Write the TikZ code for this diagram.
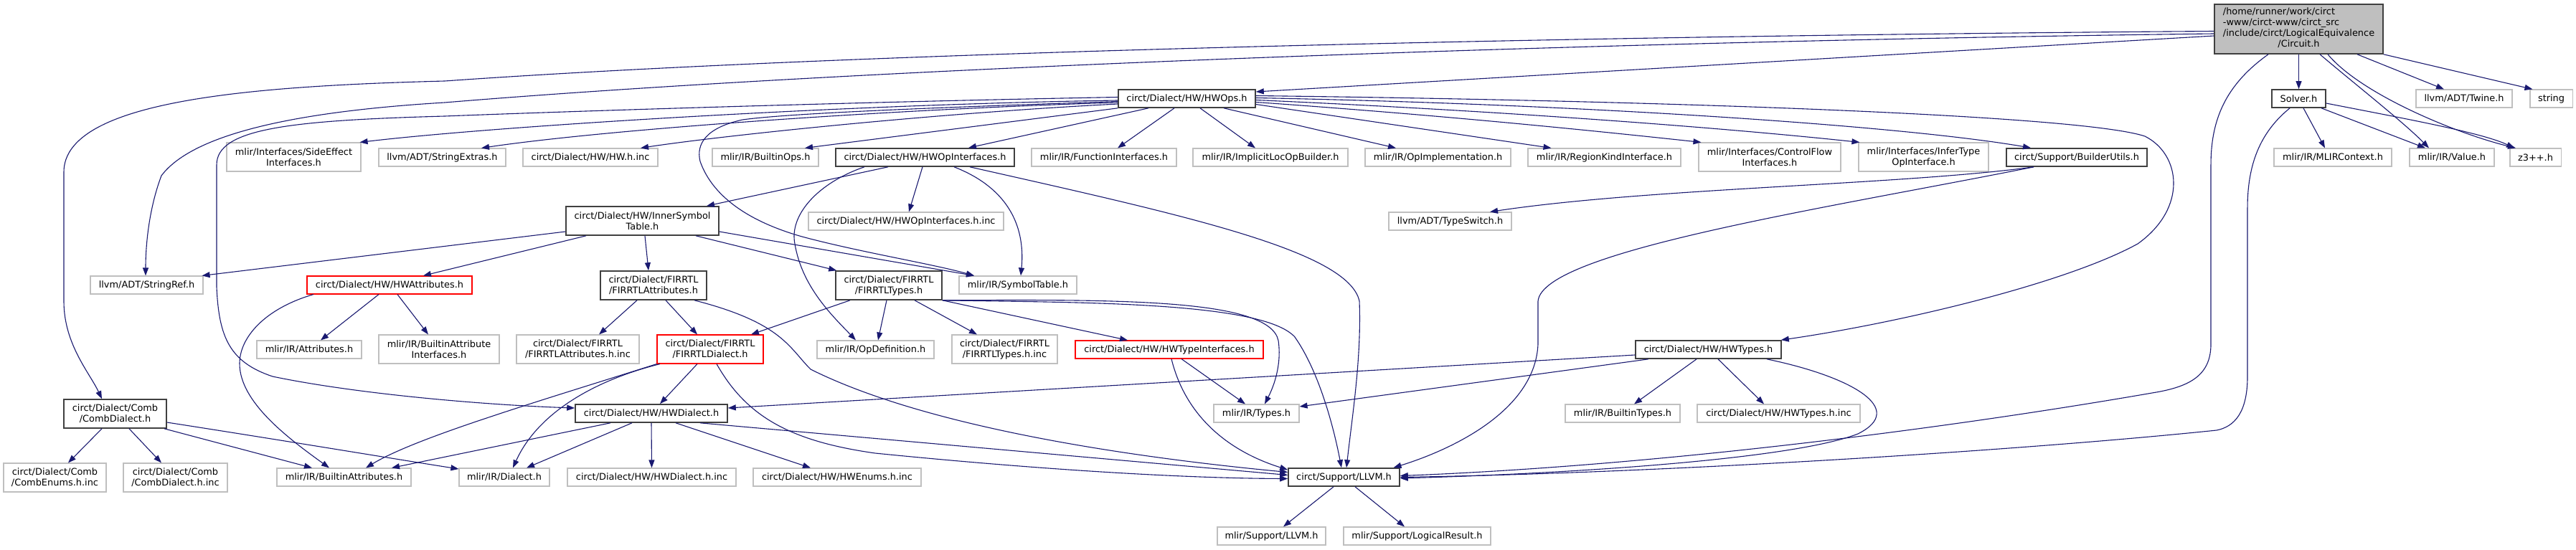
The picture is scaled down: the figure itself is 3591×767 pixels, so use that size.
\documentclass[tikz,border=0pt]{standalone}
\usepackage{fontspec}
\setmainfont{DejaVu Sans}
\usetikzlibrary{arrows.meta}
\definecolor{edgecol}{HTML}{191970}
\definecolor{gborder}{HTML}{BFBFBF}
\definecolor{kborder}{HTML}{404040}
\definecolor{rootfill}{HTML}{BFBFBF}
\definecolor{rborder}{HTML}{FF0000}
\tikzset{
  box/.style={rectangle, inner sep=0pt, fill=white, align=center, font=\fontsize{12.9}{15}\selectfont},
  gbox/.style={box, draw=gborder, line width=1.1pt},
  kbox/.style={box, draw=kborder, line width=1.6pt},
  rbox/.style={box, draw=rborder, line width=1.1pt},
  rootbox/.style={box, fill=rootfill, draw=kborder, line width=1.6pt},
  edge/.style={draw=edgecol, line width=1.1pt, -{Triangle[length=11pt,width=8pt]}, fill=none}
}
\begin{document}
\begin{tikzpicture}[x=1pt,y=-1pt]
\fill[white] (0,0) rectangle (3591,767);
\useasboundingbox (0,0) rectangle (3591,767);

% ---- nodes ----
\node[rootbox, minimum width=235pt, minimum height=69pt] (root) at (3204.5,40.5)
  {\begin{tabular}{@{}l@{}}/home/runner/work/circt\\-www/circt-www/circt\_src\\/include/circt/LogicalEquivalence\\\multicolumn{1}{@{}c@{}}{/Circuit.h}\end{tabular}};
\node[kbox, minimum width=75pt, minimum height=25pt] (solver) at (3204.5,137.5) {Solver.h};
\node[gbox, minimum width=134pt, minimum height=25pt] (twine) at (3435,137.5) {llvm/ADT/Twine.h};
\node[gbox, minimum width=59pt, minimum height=25pt] (string) at (3556.5,137.5) {string};
\node[gbox, minimum width=164pt, minimum height=25pt] (mlirctx) at (3252,219.5) {mlir/IR/MLIRContext.h};
\node[gbox, minimum width=118pt, minimum height=25pt] (value) at (3418,219.5) {mlir/IR/Value.h};
\node[gbox, minimum width=71pt, minimum height=25pt] (z3) at (3534.5,219.5) {z3++.h};

\node[kbox, minimum width=191pt, minimum height=25pt] (hwops) at (1654.5,137.5) {circt/Dialect/HW/HWOps.h};

\node[gbox, minimum width=187pt, minimum height=40pt] (sideeffect) at (409.5,219) {mlir/Interfaces/SideEffect\\Interfaces.h};
\node[gbox, minimum width=177pt, minimum height=25pt] (strext) at (616.5,219.5) {llvm/ADT/StringExtras.h};
\node[gbox, minimum width=188pt, minimum height=25pt] (hwinc) at (823,219.5) {circt/Dialect/HW/HW.h.inc};
\node[gbox, minimum width=148pt, minimum height=25pt] (builtinops) at (1067,219.5) {mlir/IR/BuiltinOps.h};
\node[kbox, minimum width=249pt, minimum height=25pt] (hwopif) at (1289.5,219.5) {circt/Dialect/HW/HWOpInterfaces.h};
\node[gbox, minimum width=202pt, minimum height=25pt] (funcif) at (1539,219.5) {mlir/IR/FunctionInterfaces.h};
\node[gbox, minimum width=216pt, minimum height=25pt] (implicit) at (1771,219.5) {mlir/IR/ImplicitLocOpBuilder.h};
\node[gbox, minimum width=203pt, minimum height=25pt] (opimpl) at (2004.5,219.5) {mlir/IR/OpImplementation.h};
\node[gbox, minimum width=213pt, minimum height=25pt] (regionkind) at (2236.5,219.5) {mlir/IR/RegionKindInterface.h};
\node[gbox, minimum width=198pt, minimum height=40pt] (controlflow) at (2467,219) {mlir/Interfaces/ControlFlow\\Interfaces.h};
\node[gbox, minimum width=181pt, minimum height=40pt] (infertype) at (2681.5,219) {mlir/Interfaces/InferType\\OpInterface.h};
\node[kbox, minimum width=196pt, minimum height=25pt] (builderutils) at (2895,219.5) {circt/Support/BuilderUtils.h};

\node[kbox, minimum width=213pt, minimum height=40pt] (innersym) at (895.5,308) {circt/Dialect/HW/InnerSymbol\\Table.h};
\node[gbox, minimum width=272pt, minimum height=25pt] (hwopifinc) at (1263,308.5) {circt/Dialect/HW/HWOpInterfaces.h.inc};
\node[gbox, minimum width=171pt, minimum height=25pt] (typeswitch) at (2021.5,308.5) {llvm/ADT/TypeSwitch.h};

\node[gbox, minimum width=157pt, minimum height=25pt] (stringref) at (204.5,397.5) {llvm/ADT/StringRef.h};
\node[rbox, minimum width=230pt, minimum height=25pt] (hwattr) at (543,397.5) {circt/Dialect/HW/HWAttributes.h};
\node[kbox, minimum width=148pt, minimum height=40pt] (firattr) at (911,398) {circt/Dialect/FIRRTL\\/FIRRTLAttributes.h};
\node[kbox, minimum width=148pt, minimum height=40pt] (firtypes) at (1239,398) {circt/Dialect/FIRRTL\\/FIRRTLTypes.h};
\node[gbox, minimum width=164pt, minimum height=25pt] (symtab) at (1419,397.5) {mlir/IR/SymbolTable.h};

\node[gbox, minimum width=146pt, minimum height=25pt] (attributes) at (431,487.5) {mlir/IR/Attributes.h};
\node[gbox, minimum width=168pt, minimum height=40pt] (builtinattrif) at (612,487) {mlir/IR/BuiltinAttribute\\Interfaces.h};
\node[gbox, minimum width=171pt, minimum height=40pt] (firattrinc) at (805.5,487) {circt/Dialect/FIRRTL\\/FIRRTLAttributes.h.inc};
\node[rbox, minimum width=148pt, minimum height=40pt] (firdialect) at (990,487) {circt/Dialect/FIRRTL\\/FIRRTLDialect.h};
\node[gbox, minimum width=163pt, minimum height=25pt] (opdef) at (1220.5,487.5) {mlir/IR/OpDefinition.h};
\node[gbox, minimum width=147pt, minimum height=40pt] (firtypesinc) at (1400.5,487) {circt/Dialect/FIRRTL\\/FIRRTLTypes.h.inc};
\node[rbox, minimum width=262pt, minimum height=25pt] (hwtypeif) at (1630,487.5) {circt/Dialect/HW/HWTypeInterfaces.h};
\node[kbox, minimum width=203pt, minimum height=25pt] (hwtypes) at (2381.5,487.5) {circt/Dialect/HW/HWTypes.h};

\node[kbox, minimum width=143pt, minimum height=40pt] (combdialect) at (160.5,577) {circt/Dialect/Comb\\/CombDialect.h};
\node[kbox, minimum width=212pt, minimum height=25pt] (hwdialect) at (908,576.5) {circt/Dialect/HW/HWDialect.h};
\node[gbox, minimum width=119pt, minimum height=25pt] (types) at (1751.5,576.5) {mlir/IR/Types.h};
\node[gbox, minimum width=160pt, minimum height=25pt] (builtintypes) at (2262,576.5) {mlir/IR/BuiltinTypes.h};
\node[gbox, minimum width=227pt, minimum height=25pt] (hwtypesinc) at (2479.5,576.5) {circt/Dialect/HW/HWTypes.h.inc};

\node[gbox, minimum width=143pt, minimum height=40pt] (combenums) at (76.5,666) {circt/Dialect/Comb\\/CombEnums.h.inc};
\node[gbox, minimum width=145pt, minimum height=40pt] (combdialectinc) at (244.5,666) {circt/Dialect/Comb\\/CombDialect.h.inc};
\node[gbox, minimum width=187pt, minimum height=25pt] (builtinattrs) at (479.5,665.5) {mlir/IR/BuiltinAttributes.h};
\node[gbox, minimum width=126pt, minimum height=25pt] (dialect) at (703,665.5) {mlir/IR/Dialect.h};
\node[gbox, minimum width=235pt, minimum height=25pt] (hwdialectinc) at (908.5,665.5) {circt/Dialect/HW/HWDialect.h.inc};
\node[gbox, minimum width=234pt, minimum height=25pt] (hwenumsinc) at (1167,665.5) {circt/Dialect/HW/HWEnums.h.inc};
\node[kbox, minimum width=155pt, minimum height=25pt] (llvm) at (1873.5,665.5) {circt/Support/LLVM.h};

\node[gbox, minimum width=151pt, minimum height=25pt] (mlirllvm) at (1772.5,747.5) {mlir/Support/LLVM.h};
\node[gbox, minimum width=205pt, minimum height=25pt] (logicalresult) at (1975.5,747.5) {mlir/Support/LogicalResult.h};

% ---- edges from root ----
\draw[edge] (root.south) -- (solver.north);
\draw[edge] ([xshift=81.5pt]root.south) -- ([xshift=-28pt]twine.north);
\draw[edge] (root.south east) -- ([xshift=4pt]string.north west);
\draw[edge] ([xshift=29.5pt]root.south) .. controls (3280,115) and (3350,170) .. ([xshift=-32pt]value.north);
\draw[edge] ([xshift=40.5pt]root.south) .. controls (3290,130) and (3420,185) .. ([xshift=-27.5pt]z3.north);
\draw[edge] ([xshift=-42.5pt]root.south) .. controls (3100,120) and (3082,170) .. (3082,230) -- (3082,480) .. controls (3082,525) and (3050,540) .. (3000,548) .. controls (2700,600) and (2300,650) .. ([yshift=2pt]llvm.east);
\draw[edge] ([yshift=-9.5pt]root.west) -- ([yshift=9.5pt]hwops.east);
\draw[edge] ([yshift=-3pt]root.west) .. controls (2200,50) and (1200,72) .. (620,113) .. controls (350,120) and (89,140) .. (89,240) -- (89,420) .. controls (89,480) and (125,520) .. ([xshift=-18.5pt]combdialect.north);
\draw[edge] ([yshift=-6.5pt]root.west) .. controls (2200,58) and (1200,95) .. (620,143) .. controls (420,155) and (270,185) .. (225,245) .. controls (208,290) and (203,340) .. ([xshift=-1.5pt]stringref.north);

% ---- Solver ----
\draw[edge] ([xshift=6.5pt]solver.south) -- ([xshift=-11pt]mlirctx.north);
\draw[edge] ([xshift=31.5pt]solver.south) -- ([xshift=-37pt]value.north);
\draw[edge] ([yshift=-6.5pt]solver.east) .. controls (3350,165) and (3460,185) .. ([xshift=-29.5pt]z3.north);
\draw[edge] ([xshift=-12.5pt]solver.south) .. controls (3150,185) and (3133,230) .. (3133,290) -- (3133,525) .. controls (3133,575) and (3115,595) .. (3090,600) .. controls (2800,630) and (2300,660) .. (llvm.east);

% ---- HWOps ----
\draw[edge] ([yshift=2pt]hwops.west) .. controls (1200,142) and (800,155) .. (620,162) .. controls (400,168) and (302,180) .. (302,230) -- (302,400) .. controls (305,470) and (320,505) .. (380,525) .. controls (500,550) and (680,565) .. ([yshift=7.5pt]hwdialect.west);
\draw[edge] ([yshift=-2.5pt]hwops.west) .. controls (1200,145) and (700,175) .. ([xshift=-2pt]sideeffect.north east);
\draw[edge] ([yshift=-5.5pt]hwops.west) .. controls (1250,152) and (850,180) .. ([xshift=54.5pt]strext.north);
\draw[edge] ([yshift=-7.5pt]hwops.west) .. controls (1300,158) and (1000,190) .. ([xshift=70pt]hwinc.north);
\draw[edge] (hwops.south west) -- ([xshift=55pt]builtinops.north);
\draw[edge] ([yshift=-4pt]hwops.west) .. controls (1300,150) and (1100,158) .. (1035,167) .. controls (985,178) and (970,200) .. (976,225) .. controls (990,265) and (1030,305) .. (1118,330) .. controls (1200,352) and (1300,368) .. ([xshift=-61pt]symtab.north);
\draw[edge] ([xshift=-53.5pt]hwops.south) -- ([xshift=60.5pt]hwopif.north);
\draw[edge] ([xshift=-17.5pt]hwops.south) -- ([xshift=19pt]funcif.north);
\draw[edge] ([xshift=18.5pt]hwops.south) -- ([xshift=-21pt]implicit.north);
\draw[edge] ([xshift=51.5pt]hwops.south) -- ([xshift=-58.5pt]opimpl.north);
\draw[edge] ([yshift=-8pt]hwops.east) -- ([xshift=-74pt]regionkind.north);
\draw[edge] ([yshift=-5pt]hwops.east) .. controls (2000,160) and (2200,180) .. ([xshift=4pt]controlflow.north west);
\draw[edge] ([yshift=-2pt]hwops.east) .. controls (2100,155) and (2400,178) .. ([xshift=2pt]infertype.north west);
\draw[edge] ([yshift=1pt]hwops.east) .. controls (2200,145) and (2650,175) .. ([xshift=-64pt]builderutils.north);
\draw[edge] ([yshift=4pt]hwops.east) .. controls (2300,140) and (2900,160) .. (2990,190) .. controls (3040,215) and (3050,290) .. (2980,340) .. controls (2880,395) and (2650,450) .. ([xshift=-1pt]hwtypes.north east);

% ---- HWOpInterfaces ----
\draw[edge] ([xshift=-51.5pt]hwopif.south) -- ([xshift=89.5pt]innersym.north);
\draw[edge] ([xshift=-84.5pt]hwopif.south) .. controls (1140,255) and (1100,300) .. (1108,340) .. controls (1118,400) and (1160,440) .. ([xshift=-27.5pt]opdef.north);
\draw[edge] ([xshift=-3.5pt]hwopif.south) -- ([xshift=4pt]hwopifinc.north);
\draw[edge] ([xshift=40.5pt]hwopif.south) .. controls (1400,260) and (1430,310) .. ([xshift=4pt]symtab.north);
\draw[edge] ([xshift=62.5pt]hwopif.south) .. controls (1650,300) and (1880,350) .. (1895,420) .. controls (1898,500) and (1885,580) .. ([xshift=3.5pt]llvm.north);

% ---- InnerSymbolTable ----
\draw[edge] ([yshift=-15pt]innersym.west) -- ([xshift=-2pt]stringref.north east);
\draw[edge] ([xshift=-78.5pt]innersym.south) -- ([xshift=47pt]hwattr.north);
\draw[edge] ([xshift=3.5pt]innersym.south) -- ([xshift=-7pt]firattr.north);
\draw[edge] ([xshift=74.5pt]innersym.south) -- ([xshift=2pt]firtypes.north west);
\draw[edge] ([yshift=-15pt]innersym.east) -- ([xshift=-61pt]symtab.north);

% ---- BuilderUtils ----
\draw[edge] ([xshift=-60pt]builderutils.south) .. controls (2650,258) and (2300,262) .. ([xshift=55.5pt]typeswitch.north);
\draw[edge] ([xshift=-60pt]builderutils.south) .. controls (2550,290) and (2150,350) .. (2144,420) -- (2144,480) .. controls (2140,570) and (2030,625) .. ([xshift=69pt]llvm.north);

% ---- HWAttributes ----
\draw[edge] ([xshift=-106pt]hwattr.south) .. controls (370,430) and (334,470) .. (334,507) .. controls (334,560) and (400,610) .. ([xshift=-20.5pt]builtinattrs.north);
\draw[edge] ([xshift=-15pt]hwattr.south) -- ([xshift=16pt]attributes.north);
\draw[edge] ([xshift=11pt]hwattr.south) -- ([xshift=-15pt]builtinattrif.north);

% ---- FIRRTLAttributes ----
\draw[edge] ([xshift=-23pt]firattr.south) -- ([xshift=29.5pt]firattrinc.north);
\draw[edge] ([xshift=17pt]firattr.south) -- ([xshift=-18pt]firdialect.north);
\draw[edge] ([xshift=57pt]firattr.south) .. controls (1090,450) and (1100,485) .. (1130,515) .. controls (1300,600) and (1600,640) .. ([yshift=7pt]llvm.west);

% ---- FIRRTLTypes ----
\draw[edge] (firtypes.south east) .. controls (1500,422) and (1760,420) .. (1805,470) .. controls (1840,520) and (1860,600) .. ([xshift=-3.5pt]llvm.north);
\draw[edge] (firtypes.south east) .. controls (1550,418) and (1770,415) .. (1782,475) .. controls (1787,510) and (1775,540) .. ([xshift=11.5pt]types.north);
\draw[edge] (firtypes.south east) -- ([xshift=-58pt]hwtypeif.north);
\draw[edge] ([xshift=36pt]firtypes.south) -- ([xshift=-38.5pt]firtypesinc.north);
\draw[edge] ([xshift=-3pt]firtypes.south) -- ([xshift=3.5pt]opdef.north);
\draw[edge] ([xshift=-54pt]firtypes.south) -- ([xshift=57pt]firdialect.north);

% ---- FIRRTLDialect ----
\draw[edge] ([xshift=-18pt]firdialect.south) -- ([xshift=12pt]hwdialect.north);
\draw[edge] ([xshift=-70pt]firdialect.south) .. controls (830,530) and (750,575) .. ([xshift=12pt]dialect.north);
\draw[edge] (firdialect.south west) .. controls (750,560) and (580,610) .. ([xshift=30.5pt]builtinattrs.north);
\draw[edge] ([xshift=9pt]firdialect.south) .. controls (1040,580) and (1100,615) .. (1220,632) .. controls (1450,655) and (1650,667) .. ([yshift=-2pt]llvm.west);

% ---- HWDialect ----
\draw[edge] ([xshift=68pt]hwdialect.south) -- ([yshift=3pt]llvm.west);
\draw[edge] ([xshift=-57pt]hwdialect.south) -- ([xshift=66.5pt]builtinattrs.north);
\draw[edge] ([xshift=-27pt]hwdialect.south) -- ([xshift=31pt]dialect.north);
\draw[edge] (hwdialect.south) -- (hwdialectinc.north);
\draw[edge] ([xshift=34pt]hwdialect.south) -- ([xshift=-37pt]hwenumsinc.north);

% ---- CombDialect ----
\draw[edge] ([xshift=-18.5pt]combdialect.south) -- ([xshift=18.5pt]combenums.north);
\draw[edge] ([xshift=19.5pt]combdialect.south) -- ([xshift=-19.5pt]combdialectinc.north);
\draw[edge] ([xshift=68.5pt]combdialect.south) -- ([xshift=-44.5pt]builtinattrs.north);
\draw[edge] ([yshift=-12pt]combdialect.east) .. controls (400,615) and (550,640) .. ([yshift=11.5pt]dialect.west);

% ---- HWTypeInterfaces ----
\draw[edge] ([xshift=17pt]hwtypeif.south) -- ([xshift=-15.5pt]types.north);
\draw[edge] ([xshift=3pt]hwtypeif.south) .. controls (1650,570) and (1700,625) .. ([yshift=-3pt]llvm.north west);

% ---- HWTypes ----
\draw[edge] ([yshift=-7.5pt]hwtypes.west) -- ([yshift=7.5pt]hwdialect.east);
\draw[edge] ([xshift=-83.5pt]hwtypes.south) -- ([yshift=9.5pt]types.east);
\draw[edge] ([xshift=-16.5pt]hwtypes.south) -- ([xshift=16pt]builtintypes.north);
\draw[edge] ([xshift=13.5pt]hwtypes.south) -- ([xshift=-20.5pt]hwtypesinc.north);
\draw[edge] ([xshift=81.5pt]hwtypes.south) .. controls (2580,525) and (2660,570) .. (2590,605) .. controls (2500,640) and (2200,660) .. ([yshift=-1.5pt]llvm.east);

% ---- LLVM ----
\draw[edge] ([xshift=-14.5pt]llvm.south) -- ([xshift=16.5pt]mlirllvm.north);
\draw[edge] ([xshift=15.5pt]llvm.south) -- ([xshift=-17.5pt]logicalresult.north);
\end{tikzpicture}
\end{document}
